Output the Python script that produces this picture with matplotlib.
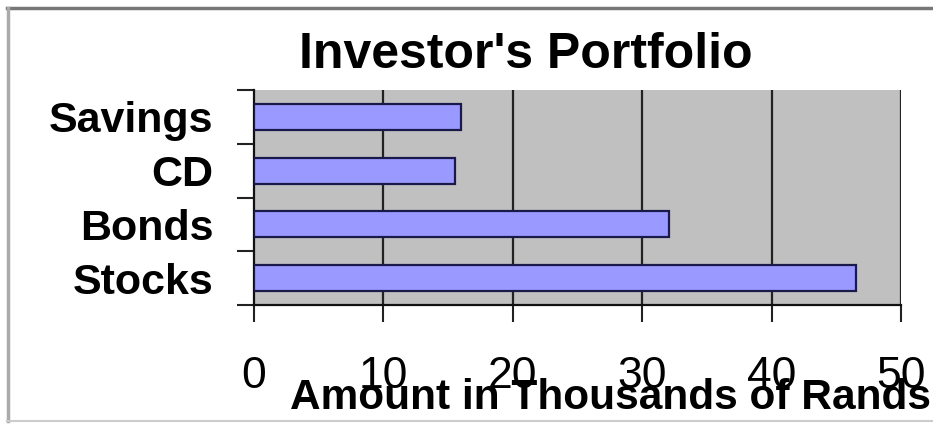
import matplotlib
matplotlib.use("Agg")
import matplotlib.pyplot as plt
from matplotlib.lines import Line2D
import numpy as np

categories = ["Stocks", "Bonds", "CD", "Savings"]
values = [46.5, 32.1, 15.5, 16.0]
x_ticks = [0, 10, 20, 30, 40, 50]
title = "Investor's Portfolio"
xlabel = "Amount in Thousands of Rands"

plt.rcParams['font.family'] = ['Liberation Sans', 'DejaVu Sans']

fig = plt.figure(figsize=(9.33, 4.24), dpi=100)
fig.patch.set_facecolor('white')
ax = fig.add_axes([254/933, 1-305/424, (901-254)/933, (305-90)/424])
ax.set_facecolor('#c0c0c0')

y = np.arange(len(categories))
ax.barh(y, values, height=0.48, color='#9999ff', edgecolor='#1a1a4a', linewidth=1.6, zorder=3)

ax.set_xlim(0, 50)
ax.set_ylim(-0.5, 3.5)
ax.set_xticks(x_ticks)
ax.set_xticklabels([str(t) for t in x_ticks], fontsize=32)
ax.tick_params(axis='x', length=12, width=1.5, color='#222222', pad=25)
ax.set_yticks(y)
ax.set_yticklabels(categories, fontsize=31, fontweight='bold')
ax.tick_params(axis='y', which='major', length=0, pad=29)
ax.set_yticks(np.arange(-0.5, 4.0, 1.0), minor=True)
ax.tick_params(axis='y', which='minor', length=12, width=1.5, color='#222222')

for xv in x_ticks[1:]:
    ax.axvline(xv, color='#222222', linewidth=1.6, zorder=1)

for s in ['top', 'right']:
    ax.spines[s].set_visible(False)
ax.spines['left'].set_linewidth(1.6)
ax.spines['bottom'].set_linewidth(1.6)
ax.spines['left'].set_color('#111111')
ax.spines['bottom'].set_color('#111111')

fig.text(526/933, 1-55/424, title, ha='center', va='center', fontsize=36, fontweight='bold')
fig.text(611/933, 1-398/424, xlabel, ha='center', va='center', fontsize=30.5, fontweight='bold')

# image frame
fig.add_artist(Line2D([7/933, 1], [1-8/424, 1-8/424], transform=fig.transFigure, color='#777777', linewidth=2.5))
fig.add_artist(Line2D([8/933, 8/933], [1-8/424, 1-421/424], transform=fig.transFigure, color='#aaaaaa', linewidth=2.5))
fig.add_artist(Line2D([7/933, 1], [1-421/424, 1-421/424], transform=fig.transFigure, color='#cccccc', linewidth=1.5))

fig.savefig('out.png', dpi=100)
